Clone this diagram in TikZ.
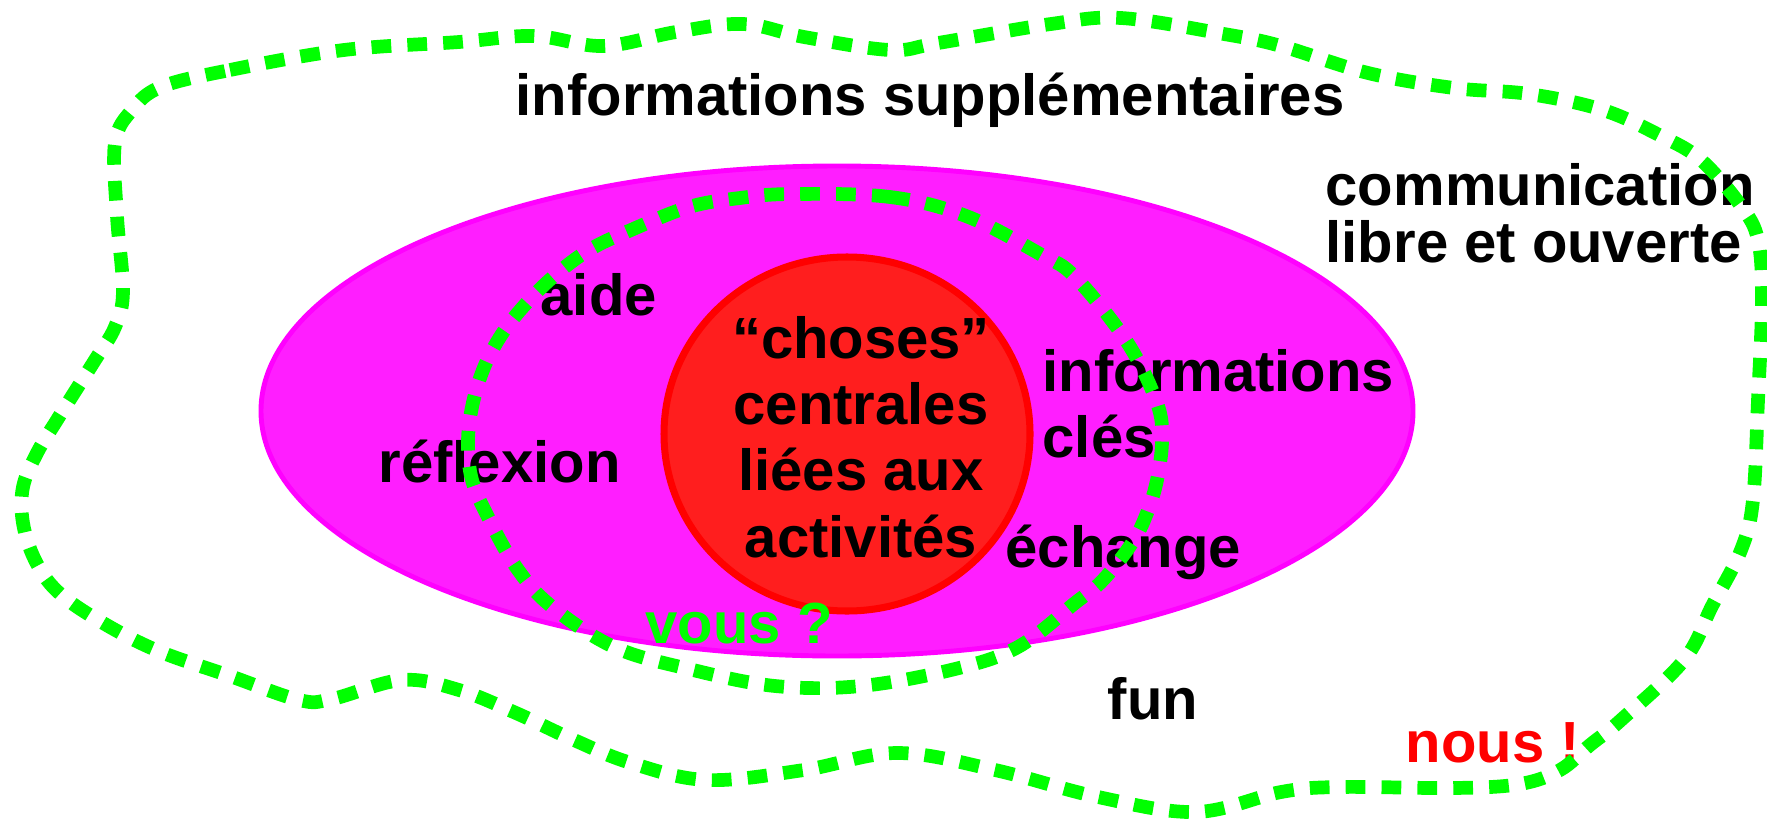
\documentclass[tikz,border=0pt]{standalone}
\usepackage{fontspec}
\setmainfont{Liberation Sans}
\usetikzlibrary{positioning}

\definecolor{loopgreen}{RGB}{0,255,0}
\definecolor{pinkfill}{RGB}{255,30,255}
\definecolor{pinkline}{RGB}{255,0,255}
\definecolor{corefill}{RGB}{255,30,30}
\definecolor{coreline}{RGB}{255,0,0}

\begin{document}
\begin{tikzpicture}[
    x = 0.01cm, % one unit = one pixel
    y = -0.01cm,
    line join = round,
    ]

    \tikzset{
    word/.style = {font=\fontsize{16.5}{18.8}\selectfont\bfseries, inner sep=0pt, anchor=base west},
    fence/.style = {draw=loopgreen, line width=3.9pt, dash pattern=on 5.6pt off 4.6pt},
    }
    \useasboundingbox (0,0) rectangle (1767,821);

    % zones
    \filldraw[fill=pinkfill, draw=pinkline, line width=1.4pt] (837,411) ellipse [x radius=576, y radius=245];
    \filldraw[fill=corefill, draw=coreline, line width=2pt] (847,434) ellipse [x radius=183, y radius=177];

    % words (multi-line nodes sit on their last line)
    \node[word] (supp) at (515,115) {informations supplémentaires};
    \node[word, align=left, font=\fontsize{16.5}{16.2}\selectfont\bfseries] (comm) at (1325,262) {communication\\libre et ouverte};
    \node[word] (aide) at (540,315) {aide};
    \node[word] (refl) at (378,482) {réflexion};
    \node[word, anchor=base, align=center] (core) at (861,557) {“choses”\\centrales\\liées aux\\activités};
    \node[word, align=left, font=\fontsize{16.5}{18.5}\selectfont\bfseries] (cles) at (1042,457) {informations\\clés};
    \node[word] (echg) at (1005,567) {échange};
    \node[word, text=loopgreen] (vous) at (645,643) {vous ?};
    \node[word] (fun) at (1107,719) {fun};
    \node[word, text=coreline] (nous) at (1405,762) {nous !};

    % boundaries
    \draw[fence] plot[smooth cycle, tension=0.6] coordinates {
      (792,194) (890,197) (966,216) (1040,254) (1075,277) (1127,342) (1157,403)
      (1162,440) (1157,480) (1147,513) (1132,543) (1103,580) (1075,603) (1018,647)
      (955,669) (861,686) (775,686) (689,669) (614,647) (551,606) (516,567)
      (488,517) (472,480) (468,443) (472,407) (483,370) (500,337) (523,307)
      (553,277) (589,250) (631,230) (689,207) (740,198)};
    \draw[fence] plot[smooth cycle, tension=0.6] coordinates {
      (161,87) (230,70) (344,50) (459,42) (534,36) (603,46) (676,32) (743,24)
      (804,37) (890,50) (938,43) (1051,24) (1121,18) (1224,34) (1281,46) (1368,73)
      (1454,88) (1529,94) (1603,110) (1661,136) (1701,160) (1741,206) (1758,240)
      (1762,300) (1758,400) (1753,500) (1741,550) (1712,606) (1684,660) (1621,720)
      (1590,745) (1560,770) (1520,784) (1454,788) (1339,787) (1281,792) (1196,812)
      (1098,797) (995,770) (897,753) (804,770) (707,780) (631,763) (574,740)
      (516,713) (459,690) (402,680) (332,699) (299,700) (230,676) (156,650)
      (98,620) (57,591) (35,560) (23,523) (23,487) (37,453) (57,420) (74,393)
      (95,360) (115,327) (123,291) (117,216) (115,143) (132,110)};
\end{tikzpicture}
\end{document}
